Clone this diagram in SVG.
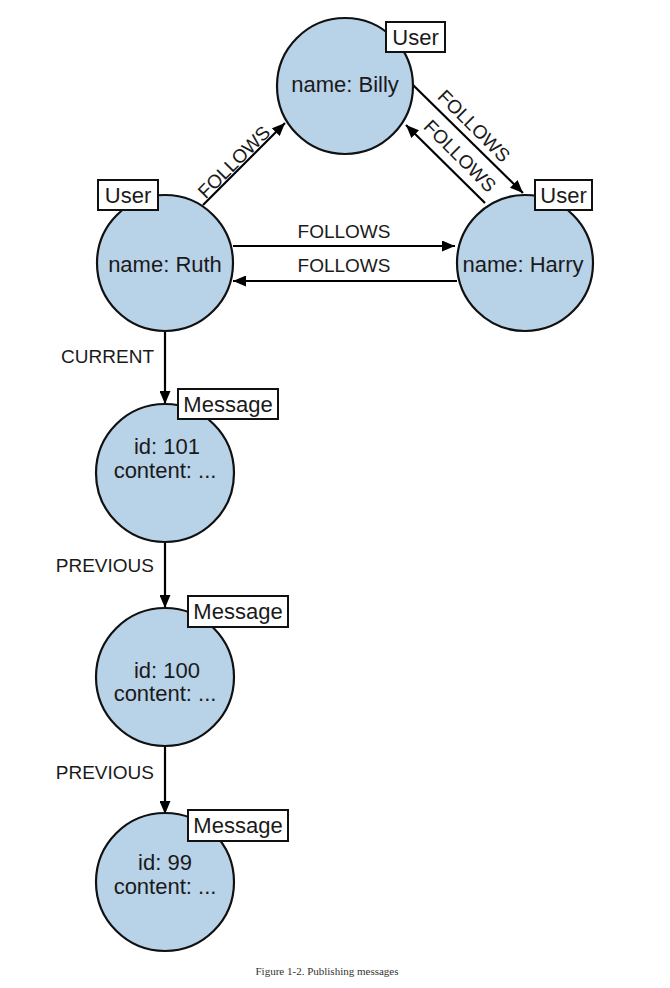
<svg xmlns="http://www.w3.org/2000/svg" width="670" height="988" viewBox="0 0 670 988">
<defs>
<marker id="arr" viewBox="0 0 13 11" refX="13" refY="5.5" markerWidth="13" markerHeight="11" markerUnits="userSpaceOnUse" orient="auto">
<path d="M0,0 L13,5.5 L0,11 Z" fill="#000"/>
</marker>
<style>
.node{fill:#b8d2e8;stroke:#111;stroke-width:2.2}
.lbl{fill:#fff;stroke:#111;stroke-width:2}
.t{font-family:"Liberation Sans",Arial,sans-serif;font-size:22px;fill:#1a1a1a;text-anchor:middle}
.e{stroke:#000;stroke-width:2.2;fill:none;marker-end:url(#arr)}
.el{font-family:"Liberation Sans",Arial,sans-serif;font-size:19px;fill:#1a1a1a;text-anchor:middle}
.cap{font-family:"Liberation Serif","Times New Roman",serif;font-size:11px;fill:#333;text-anchor:middle}
</style>
</defs>
<rect width="670" height="988" fill="#fff"/>
<g id="connectors">
<line class="e" x1="203" y1="205" x2="285" y2="123"/>
<text class="el" transform="translate(234,162) rotate(-45)" y="6.5">FOLLOWS</text>
<line class="e" x1="413" y1="85" x2="523" y2="193"/>
<text class="el" transform="translate(474,126) rotate(45)" y="6.5">FOLLOWS</text>
<line class="e" x1="485" y1="203" x2="406" y2="125"/>
<text class="el" transform="translate(460,156) rotate(45)" y="6.5">FOLLOWS</text>
<line class="e" x1="233" y1="246" x2="455" y2="246"/>
<text class="el" x="344" y="238">FOLLOWS</text>
<line class="e" x1="457" y1="281" x2="233" y2="281"/>
<text class="el" x="344" y="272">FOLLOWS</text>
<line class="e" x1="165" y1="331" x2="165" y2="404"/>
<text class="el" x="154" y="363" style="text-anchor:end">CURRENT</text>
<line class="e" x1="165" y1="541" x2="165" y2="608"/>
<text class="el" x="154" y="572" style="text-anchor:end">PREVIOUS</text>
<line class="e" x1="165" y1="746" x2="165" y2="814"/>
<text class="el" x="154" y="779" style="text-anchor:end">PREVIOUS</text>
</g>
<g id="billy">
<circle class="node" cx="345" cy="86" r="68"/>
<text class="t" x="345" y="92">name: Billy</text>
<rect class="lbl" x="386" y="22" width="59" height="30"/>
<text class="t" x="415.5" y="45">User</text>
</g>
<g id="ruth">
<circle class="node" cx="165" cy="263" r="68"/>
<text class="t" x="165" y="272">name: Ruth</text>
<rect class="lbl" x="98" y="180" width="60" height="30"/>
<text class="t" x="128" y="203">User</text>
</g>
<g id="harry">
<circle class="node" cx="525" cy="263" r="68"/>
<text class="t" x="523" y="272">name: Harry</text>
<rect class="lbl" x="535" y="180" width="57" height="30"/>
<text class="t" x="563.5" y="203">User</text>
</g>
<g id="msg101">
<circle class="node" cx="165" cy="473" r="69"/>
<text class="t" x="167" y="454">id: 101</text>
<text class="t" x="165" y="478">content: ...</text>
<rect class="lbl" x="178" y="389" width="100" height="30"/>
<text class="t" x="228" y="412">Message</text>
</g>
<g id="msg100">
<circle class="node" cx="165" cy="677" r="69"/>
<text class="t" x="167" y="678">id: 100</text>
<text class="t" x="165" y="701">content: ...</text>
<rect class="lbl" x="188" y="596" width="100" height="31"/>
<text class="t" x="238" y="619">Message</text>
</g>
<g id="msg99">
<circle class="node" cx="165" cy="882" r="69"/>
<text class="t" x="165" y="870">id: 99</text>
<text class="t" x="165" y="894">content: ...</text>
<rect class="lbl" x="188" y="810" width="100" height="31"/>
<text class="t" x="238" y="833">Message</text>
</g>
<text class="cap" x="327" y="975">Figure 1-2. Publishing messages</text>
</svg>
